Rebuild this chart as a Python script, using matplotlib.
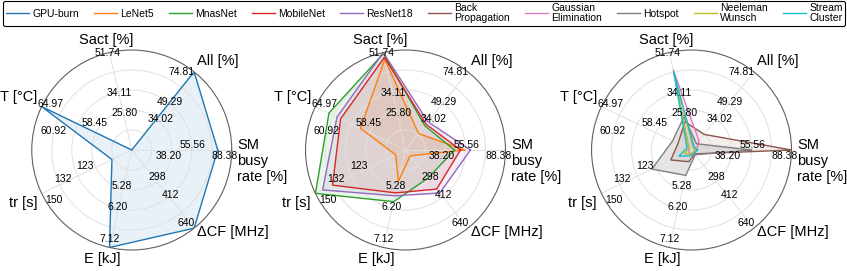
import numpy as np
import matplotlib.pyplot as plt

plt.rcParams['font.family'] = ['Liberation Sans', 'DejaVu Sans']

# radar axes, counter-clockwise from 0 deg
axis_names = ['SM\nbusy\nrate [%]', 'All [%]', 'Sact [%]', 'T [°C]', 'tr [s]', 'E [kJ]', 'ΔCF [MHz]']
tick_labels = [
    ['38.20', '55.56', '88.38'],
    ['34.02', '49.29', '74.81'],
    ['25.80', '34.11', '51.74'],
    ['58.45', '60.92', '64.97'],
    ['123', '132', '150'],
    ['5.28', '6.20', '7.12'],
    ['298', '412', '640'],
]

# normalised score on each axis (0 = centre, 1 = outer ring)
#              SM    All   Sact  T     tr    E     dCF
gpu_burn    = [0.86, 1.00, 0.00, 1.00, 0.22, 1.00, 1.00]
lenet5      = [0.59, 0.21, 0.93, 0.50, 0.11, 0.32, 0.075]
mnasnet     = [0.49, 0.31, 0.99, 0.85, 1.00, 0.53, 0.36]
mobilenet   = [0.55, 0.33, 0.95, 0.72, 0.81, 0.44, 0.50]
resnet18    = [0.65, 0.36, 1.00, 0.76, 0.92, 0.47, 0.55]
backprop    = [1.00, 0.20, 0.29, 0.15, 0.23, 0.12, 0.05]
gaussian    = [0.05, 0.12, 0.82, 0.03, 0.03, 0.05, 0.05]
hotspot     = [0.60, 0.08, 0.34, 0.21, 0.44, 0.26, 0.06]
needleman   = [0.03, 0.03, 0.78, 0.03, 0.08, 0.04, 0.03]
streamclust = [0.06, 0.04, 0.80, 0.05, 0.14, 0.06, 0.04]

panels = [
    [('GPU-burn', gpu_burn, 'C0')],
    [('LeNet5', lenet5, 'C1'), ('MnasNet', mnasnet, 'C2'),
     ('MobileNet', mobilenet, 'C3'), ('ResNet18', resnet18, 'C4')],
    [('Back\nPropagation', backprop, 'C5'), ('Gaussian\nElimination', gaussian, 'C6'),
     ('Hotspot', hotspot, 'C7'), ('Neeleman\nWunsch', needleman, 'C8'),
     ('Stream\nCluster', streamclust, 'C9')],
]

n = len(axis_names)
angles = np.arange(n) * 360.0 / n

# where the value labels sit: (radius, angular shift in deg) per axis
tick_pos = [
    [(0.37, -9), (0.61, 5), (0.93, -4)],
    [(0.42, -4), (0.61, 0), (0.93, 6)],
    [(0.38, -2), (0.58, -1), (1.00, 1)],
    [(0.46, -11), (0.81, 12), (0.93, -4)],
    [(0.49, -7), (0.75, -3), (0.92, 7)],
    [(0.37, -3), (0.59, -1), (0.92, -1)],
    [(0.37, 4), (0.59, 2), (0.91, -2)],
]
# axis title placement: (theta deg, radius, ha, va)
name_pos = [
    (-6, 1.06, 'left', 'center'),
    (51.4, 1.05, 'left', 'bottom'),
    (102.9, 1.13, 'center', 'center'),
    (154.3, 1.05, 'right', 'bottom'),
    (205.7, 1.05, 'right', 'top'),
    (254, 1.06, 'center', 'top'),
    (308.6, 1.05, 'left', 'center'),
]

fig = plt.figure(figsize=(8.47, 2.71), dpi=100)
lefts = [0.0375, 0.3607, 0.6984]
handles = []
for left, series in zip(lefts, panels):
    ax = fig.add_axes([left, 0.0775, 0.2361, 0.738], polar=True)
    ax.set_ylim(0, 1)
    ax.set_xticks(np.deg2rad(angles))
    ax.set_xticklabels([])
    ax.set_yticks([0.2, 0.4, 0.6, 0.8])
    ax.set_yticklabels([])
    ax.grid(color='#e0e0e0', lw=0.7)
    ax.spines['polar'].set_color('#606060')
    ax.spines['polar'].set_linewidth(0.8)

    theta = np.deg2rad(np.append(angles, angles[0]))
    for label, vals, col in series:
        r = np.append(vals, vals[0])
        a = 0.2 if label == 'Hotspot' else 0.1
        ax.fill(theta, r, color=col, alpha=a, lw=0)
        ln, = ax.plot(theta, r, color=col, lw=1.0, label=label)
        handles.append(ln)

    for i in range(n):
        for txt, (rr, off) in zip(tick_labels[i], tick_pos[i]):
            ax.text(np.deg2rad(angles[i] + off), rr, txt, fontsize=7.5,
                    ha='center', va='center')
        th, rr, ha, va = name_pos[i]
        ax.text(np.deg2rad(th), rr, axis_names[i], fontsize=10.5,
                ha=ha, va=va, linespacing=1.15)

leg = fig.legend(handles, [h.get_label() for h in handles], loc='lower left',
                 bbox_to_anchor=(0.004, 0.905, 0.994, 0.088), mode='expand',
                 ncol=10, fontsize=7.5, handlelength=2.2, handletextpad=0.3,
                 borderaxespad=0, borderpad=0.25, framealpha=1,
                 edgecolor='black', labelspacing=0.2)
leg.get_frame().set_linewidth(0.8)
for t in leg.get_texts():
    t.set_linespacing(1.0)

fig.savefig('out.png', dpi=100)
